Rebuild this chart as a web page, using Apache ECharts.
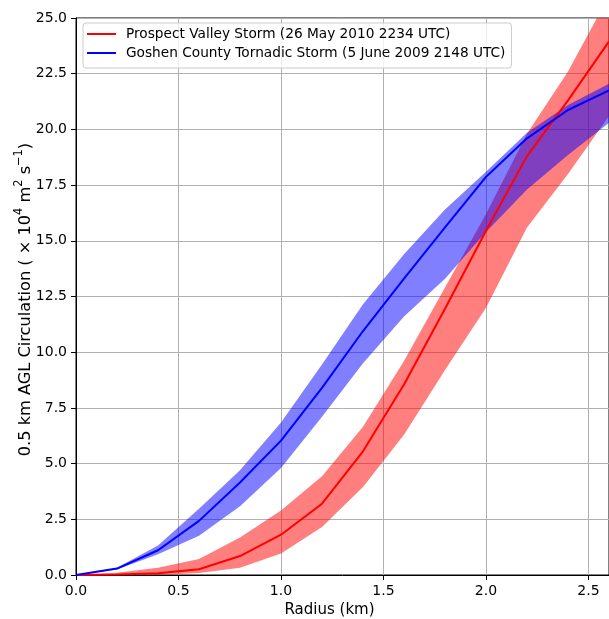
<!DOCTYPE html>
<html>
<head>
<meta charset="utf-8">
<script src="https://cdn.jsdelivr.net/npm/echarts@6/dist/echarts.min.js"></script>
<style>
  html, body { margin: 0; padding: 0; background: #ffffff; }
  #chart { width: 609px; height: 619px; }
</style>
</head>
<body>
<div id="chart"></div>
<script>
// Radius (km) at which circulation is evaluated
const radius = [0.0, 0.2, 0.4, 0.6, 0.8, 1.0, 1.2, 1.4, 1.6, 1.8, 2.0, 2.2, 2.4, 2.6];

// Prospect Valley storm: mean circulation and its spread (x 10^4 m^2 s^-1)
const prospectMean  = [0, 0.02, 0.08, 0.26, 0.85, 1.81, 3.20, 5.55, 8.55, 11.95, 15.45, 18.80, 21.30, 23.95];
const prospectLower = [0, 0.00, 0.00, 0.09, 0.33, 0.97, 2.16, 3.95, 6.30, 9.20, 12.00, 15.60, 18.00, 20.60];
const prospectUpper = [0, 0.10, 0.33, 0.72, 1.68, 2.90, 4.43, 6.65, 9.60, 12.90, 16.20, 19.80, 22.60, 26.00];

// Goshen County tornadic storm: mean circulation and its spread
const goshenMean  = [0, 0.29, 1.11, 2.43, 4.15, 6.03, 8.40, 10.95, 13.30, 15.60, 17.87, 19.60, 20.87, 21.75];
const goshenLower = [0, 0.25, 0.93, 1.76, 3.09, 4.80, 7.10, 9.50, 11.60, 13.30, 15.40, 17.30, 18.85, 20.30];
const goshenUpper = [0, 0.33, 1.32, 2.97, 4.70, 6.85, 9.45, 12.15, 14.40, 16.40, 18.10, 19.85, 21.10, 22.05];

// Axis ticks
const xTicks = [0.0, 0.5, 1.0, 1.5, 2.0, 2.5];
const yTicks = [0.0, 2.5, 5.0, 7.5, 10.0, 12.5, 15.0, 17.5, 20.0, 22.5, 25.0];

const prospectName = 'Prospect Valley Storm (26 May 2010 2234 UTC)';
const goshenName = 'Goshen County Tornadic Storm (5 June 2009 2148 UTC)';

const FONT = 'DejaVu Sans';

function pairs(ys) { return radius.map((r, i) => [r, ys[i]]); }

// Shaded spread between lower and upper curves, drawn as one polygon
function band(id, lo, hi, fill) {
  return {
    name: id, type: 'custom', silent: true, clip: true,
    data: radius.map((r, i) => [r, lo[i], hi[i]]),
    encode: { x: 0, y: [1, 2] },
    renderItem: function (params, api) {
      if (params.dataIndex !== 0) return null;
      const pts = [];
      for (let i = 0; i < radius.length; i++) pts.push(api.coord([radius[i], hi[i]]));
      for (let i = radius.length - 1; i >= 0; i--) pts.push(api.coord([radius[i], lo[i]]));
      const cs = params.coordSys;
      return {
        type: 'group',
        clipPath: { type: 'rect', shape: { x: cs.x, y: cs.y, width: cs.width, height: cs.height } },
        children: [{ type: 'polygon', shape: { points: pts }, style: { fill: fill, stroke: null } }]
      };
    }
  };
}

const chart = echarts.init(document.getElementById('chart'), null, { renderer: 'canvas' });

chart.setOption({
  animation: false,
  backgroundColor: '#ffffff',
  textStyle: { fontFamily: FONT, color: '#000000' },
  grid: {
    left: 76, right: 0, top: 18, bottom: 44,
    outerBoundsMode: 'none', containLabel: false,
    show: true, borderColor: '#000000', borderWidth: 1, backgroundColor: 'transparent'
  },
  legend: {
    data: [prospectName, goshenName],
    orient: 'vertical',
    left: 83, top: 23,
    padding: [4, 6, 8, 4],
    itemGap: 5,
    itemWidth: 29, itemHeight: 2,
    icon: 'rect',
    backgroundColor: 'rgba(255,255,255,0.8)',
    borderColor: '#cccccc', borderWidth: 1, borderRadius: 3,
    textStyle: { fontFamily: FONT, fontSize: 13.7, color: '#000000', lineHeight: 14, padding: [0, 0, 0, 5] }
  },
  xAxis: {
    type: 'value', min: 0, max: 2.6, interval: 0.5,
    name: 'Radius (km)', nameLocation: 'middle', nameGap: 28,
    nameTextStyle: { fontFamily: FONT, fontSize: 15, color: '#000000', padding: [0, 26, 0, 0] },
    axisLine: { show: true, onZero: false, lineStyle: { color: '#000000', width: 1 } },
    axisTick: { show: true, inside: false, length: 5, lineStyle: { color: '#000000', width: 1 } },
    axisLabel: {
      fontFamily: FONT, fontSize: 14, color: '#000000', margin: 9,
      formatter: v => xTicks.some(t => Math.abs(t - v) < 1e-9) ? v.toFixed(1) : ''
    },
    splitLine: { show: true, lineStyle: { color: '#b0b0b0', width: 1 } }
  },
  yAxis: {
    type: 'value', min: 0, max: 25, interval: 2.5,
    name: '{t|0.5 km AGL Circulation ( × 10}{s|4}{t| m}{s|2}{t| s}{s|−1}{t|)}',
    nameLocation: 'middle', nameGap: 42, nameRotate: 90, nameMoveOverlap: false,
    nameTextStyle: {
      fontFamily: FONT, fontSize: 16.2, color: '#000000', padding: [0, 6, 0, 0],
      rich: {
        t: { fontFamily: FONT, fontSize: 16.2, color: '#000000', lineHeight: 20, verticalAlign: 'bottom' },
        s: { fontFamily: FONT, fontSize: 11.4, color: '#000000', lineHeight: 20, verticalAlign: 'top' }
      }
    },
    axisLine: { show: true, onZero: false, lineStyle: { color: '#000000', width: 1 } },
    axisTick: { show: true, inside: false, length: 5, lineStyle: { color: '#000000', width: 1 } },
    axisLabel: {
      fontFamily: FONT, fontSize: 14, color: '#000000', margin: 9,
      formatter: v => yTicks.some(t => Math.abs(t - v) < 1e-9) ? v.toFixed(1) : ''
    },
    splitLine: { show: true, lineStyle: { color: '#b0b0b0', width: 1 } }
  },
  series: [
    band('prospect-spread', prospectLower, prospectUpper, 'rgba(255,0,0,0.5)'),
    band('goshen-spread', goshenLower, goshenUpper, 'rgba(0,0,255,0.5)'),
    {
      name: prospectName, type: 'line', data: pairs(prospectMean),
      symbol: 'none', color: '#ff0000', lineStyle: { color: '#ff0000', width: 2 }
    },
    {
      name: goshenName, type: 'line', data: pairs(goshenMean),
      symbol: 'none', color: '#0000ff', lineStyle: { color: '#0000ff', width: 2 }
    }
  ]
});
</script>
</body>
</html>
